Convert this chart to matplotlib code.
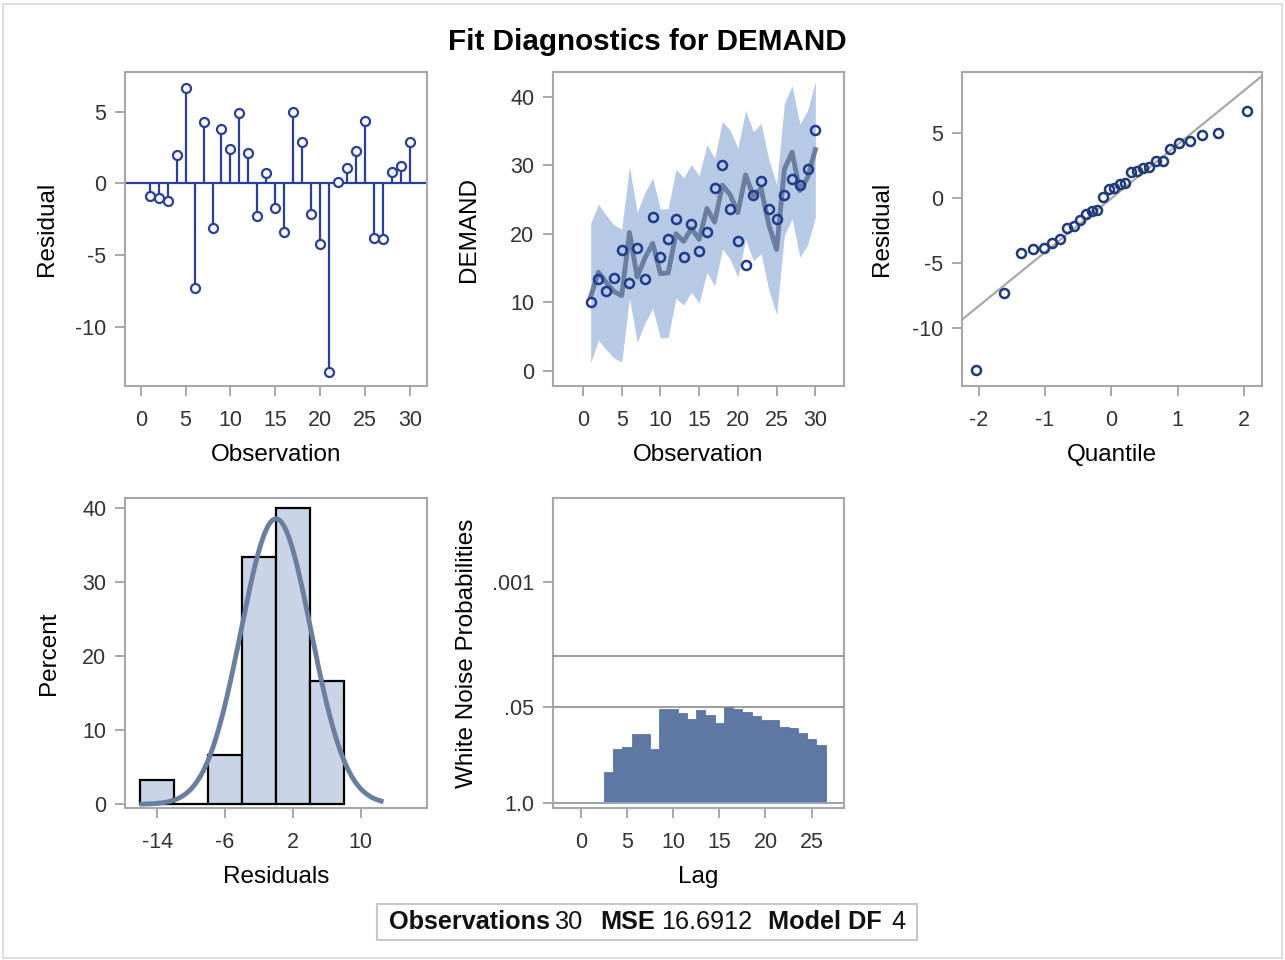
import numpy as np
import matplotlib
matplotlib.use('Agg')
import matplotlib.pyplot as plt
from matplotlib.patches import Rectangle

plt.rcParams['font.family'] = ['Liberation Sans', 'DejaVu Sans']
plt.rcParams['axes.unicode_minus'] = False

# data
obs = list(range(1, 31))
residual = [-0.9, -1.0, -1.2, 2.0, 6.7, -7.3, 4.3, -3.1, 3.8, 2.4,
            4.9, 2.1, -2.3, 0.7, -1.7, -3.4, 5.0, 2.9, -2.1, -4.2,
            -13.2, 0.1, 1.1, 2.3, 4.4, -3.8, -3.9, 0.8, 1.2, 2.9]
demand = [10.0, 13.4, 11.7, 13.6, 17.7, 12.9, 18.0, 13.4, 22.4, 16.6,
          19.2, 22.1, 16.6, 21.5, 17.5, 20.3, 26.7, 30.0, 23.6, 18.9,
          15.4, 25.6, 27.7, 23.6, 22.1, 25.6, 28.0, 27.1, 29.4, 35.2]
predicted = [10.9, 14.4, 12.9, 11.6, 11.0, 20.2, 13.7, 16.5, 18.6, 14.2,
             14.3, 20.0, 18.9, 20.8, 19.2, 23.7, 21.7, 27.1, 25.7, 23.1,
             28.6, 25.5, 26.6, 21.3, 17.7, 29.4, 31.9, 26.3, 28.2, 32.3]
upper = [21.6, 24.3, 22.7, 21.3, 20.7, 29.8, 23.2, 26.0, 28.1, 23.6,
         23.7, 29.4, 28.2, 30.1, 28.5, 33.0, 31.0, 36.4, 35.1, 32.5,
         38.0, 34.9, 36.1, 30.8, 27.2, 39.0, 41.6, 36.0, 38.0, 42.2]
lower = [1.2, 4.5, 3.1, 1.9, 1.3, 10.6, 4.2, 7.0, 9.1, 4.8,
         4.9, 10.6, 9.6, 11.5, 9.9, 14.4, 12.4, 17.8, 16.3, 13.7,
         19.2, 16.1, 17.1, 11.8, 8.2, 19.8, 22.2, 16.6, 18.4, 22.4]

quantile = [-2.04, -1.61, -1.36, -1.18, -1.02, -0.89, -0.775, -0.668, -0.568, -0.473,
            -0.382, -0.294, -0.209, -0.125, -0.041, 0.041, 0.125, 0.209, 0.294, 0.382,
            0.473, 0.568, 0.668, 0.775, 0.89, 1.02, 1.18, 1.36, 1.61, 2.04]
sorted_resid = [-13.2, -7.3, -4.2, -3.9, -3.8, -3.4, -3.1, -2.3, -2.1, -1.7,
                -1.2, -1.0, -0.9, 0.1, 0.7, 0.8, 1.1, 1.2, 2.0, 2.1,
                2.3, 2.4, 2.9, 2.9, 3.8, 4.3, 4.4, 4.9, 5.0, 6.7]
qq_slope = 4.15

bin_mid = [-14, -10, -6, -2, 2, 6]
percent = [3.33, 0.0, 6.67, 33.33, 40.0, 16.67]
res_mean = 0.0
res_sd = 4.14

lags = list(range(3, 27))
wn_prob = [0.372, 0.184, 0.170, 0.1135, 0.1135, 0.184, 0.0525, 0.0525, 0.0589, 0.0708,
           0.0550, 0.0631, 0.0813, 0.0501, 0.0525, 0.0575, 0.0661, 0.0741, 0.0741, 0.0912,
           0.0955, 0.112, 0.135, 0.162]

footer = [("Observations", "bold"), ("30", "normal"), ("MSE", "bold"),
          ("16.6912", "normal"), ("Model DF", "bold"), ("4", "normal")]

blue = '#2a3f98'
frame = '#a8a8a8'


def style(ax):
    for s in ax.spines.values():
        s.set_color(frame)
        s.set_linewidth(1.5)
    ax.tick_params(direction='out', length=7, width=1.2, color='#9a9a9a',
                   labelsize=15.5, labelcolor='#333333')
    ax.tick_params(axis='x', pad=10.5)
    ax.tick_params(axis='y', pad=6.5)


fig = plt.figure(figsize=(12.85, 9.6), dpi=100)
W, H = 1285.0, 960.0


def box(l, t, r, b):
    return [l / W, 1 - b / H, (r - l) / W, (b - t) / H]


# residual by observation
ax1 = fig.add_axes(box(125, 72, 427, 386))
ax1.axhline(0, color=blue, lw=1.6, zorder=1)
ax1.vlines(obs, 0, residual, color=blue, lw=1.6, zorder=2)
ax1.plot(obs, residual, 'o', ms=6.5, mfc='white', mec=blue, mew=1.6, zorder=3)
ax1.set_xlim(-1.75, 31.9)
ax1.set_ylim(-14.15, 7.79)
ax1.set_xticks(range(0, 31, 5))
ax1.set_yticks([-10, -5, 0, 5])
ax1.set_xlabel('Observation', fontsize=17.5, labelpad=9)
ax1.set_ylabel('Residual', fontsize=17.5, labelpad=12)
style(ax1)

# demand with fit and band
ax2 = fig.add_axes(box(553, 72, 844, 386))
ax2.fill_between(obs, lower, upper, color='#b6c9e5', lw=0, zorder=1)
ax2.plot(obs, predicted, color='#6a7f9f', lw=3.5, zorder=2)
ax2.plot(obs, demand, 'o', ms=6.5, mfc='none', mec='#1f3a8f', mew=1.8, zorder=3)
ax2.set_xlim(-3.87, 33.7)
ax2.set_ylim(-2.19, 43.6)
ax2.set_xticks(range(0, 31, 5))
ax2.set_yticks(range(0, 41, 10))
ax2.set_xlabel('Observation', fontsize=17.5, labelpad=9)
ax2.set_ylabel('DEMAND', fontsize=17.5, labelpad=22)
style(ax2)

# QQ plot
ax3 = fig.add_axes(box(962, 72, 1262, 386))
ax3.axline((0, 0), slope=qq_slope, color='#a9a9a9', lw=1.6, zorder=1)
ax3.plot(quantile, sorted_resid, 'o', ms=6.5, mfc='none', mec='#1f3a78', mew=1.8, zorder=2)
ax3.set_xlim(-2.25, 2.27)
ax3.set_ylim(-14.45, 9.73)
ax3.set_xticks([-2, -1, 0, 1, 2])
ax3.set_yticks([-10, -5, 0, 5])
ax3.set_xlabel('Quantile', fontsize=17.5, labelpad=9)
ax3.set_ylabel('Residual', fontsize=17.5, labelpad=14)
style(ax3)

# histogram of residuals
ax4 = fig.add_axes(box(125, 498, 427, 808))
ax4.bar(bin_mid, percent, width=4, color='#c9d4e7', edgecolor='black', lw=1.6, zorder=1)
xs = np.linspace(-15.8, 12.4, 200)
dens = 400 / (res_sd * np.sqrt(2 * np.pi)) * np.exp(-0.5 * ((xs - res_mean) / res_sd) ** 2)
ax4.plot(xs, dens, color='#6a7f9f', lw=3.5, zorder=2)
ax4.set_xlim(-17.8, 17.8)
ax4.set_ylim(-0.5, 41.35)
ax4.set_xticks([-14, -6, 2, 10])
ax4.set_yticks(range(0, 41, 10))
ax4.set_xlabel('Residuals', fontsize=17.5, labelpad=9)
ax4.set_ylabel('Percent', fontsize=17.5, labelpad=16)
style(ax4)

# white noise probabilities
ax5 = fig.add_axes(box(553, 498, 844, 808))
ax5.set_yscale('log')
ax5.bar(lags, [p - 1 for p in wn_prob], bottom=1.0, width=1.0,
        color='#5e77a3', edgecolor='#5e77a3', lw=0.6, zorder=2)
ax5.axhline(1.0, color='#9aa3b5', lw=1.4, zorder=3)
ax5.axhline(0.05, color='#8c8c8c', lw=1.2, zorder=3)
ax5.axhline(0.01, color='#8c8c8c', lw=1.2, zorder=3)
ax5.set_xlim(-3.0, 28.5)
ax5.set_ylim(1.158, 7.2e-5)
ax5.set_xticks(range(0, 26, 5))
ax5.set_yticks([1.0, 0.05, 0.001])
ax5.set_yticklabels(['1.0', '.05', '.001'])
ax5.minorticks_off()
ax5.set_xlabel('Lag', fontsize=17.5, labelpad=9)
ax5.set_ylabel('White Noise Probabilities', fontsize=17.5, labelpad=10)
style(ax5)

fig.text(647 / W, 1 - 42 / H, 'Fit Diagnostics for DEMAND', fontsize=21.3,
         fontweight='bold', ha='center', va='center', color='black')

# footer line with mixed weights
renderer = fig.canvas.get_renderer()
widths = []
for s, w in footer:
    t = fig.text(0, 0, s, fontsize=18.2, fontweight=w)
    widths.append(t.get_window_extent(renderer).width)
    t.remove()
gaps = [5, 18, 6, 15, 10]
total = sum(widths) + sum(gaps)
x = 647 - total / 2
for i, (s, w) in enumerate(footer):
    fig.text(x / W, 1 - 922 / H, s, fontsize=18.2, fontweight=w,
             ha='left', va='center', color='#111111')
    x += widths[i] + (gaps[i] if i < len(gaps) else 0)
fig.patches.append(Rectangle((377 / W, 1 - 940 / H), 540 / W, 36 / H,
                             transform=fig.transFigure, fill=False,
                             edgecolor='#c8c8c8', lw=1.5))
fig.patches.append(Rectangle((0.002, 0.002), 0.996, 0.994, transform=fig.transFigure,
                             fill=False, edgecolor='#d8d8d8', lw=1.2))

fig.savefig('out.png', dpi=100)
